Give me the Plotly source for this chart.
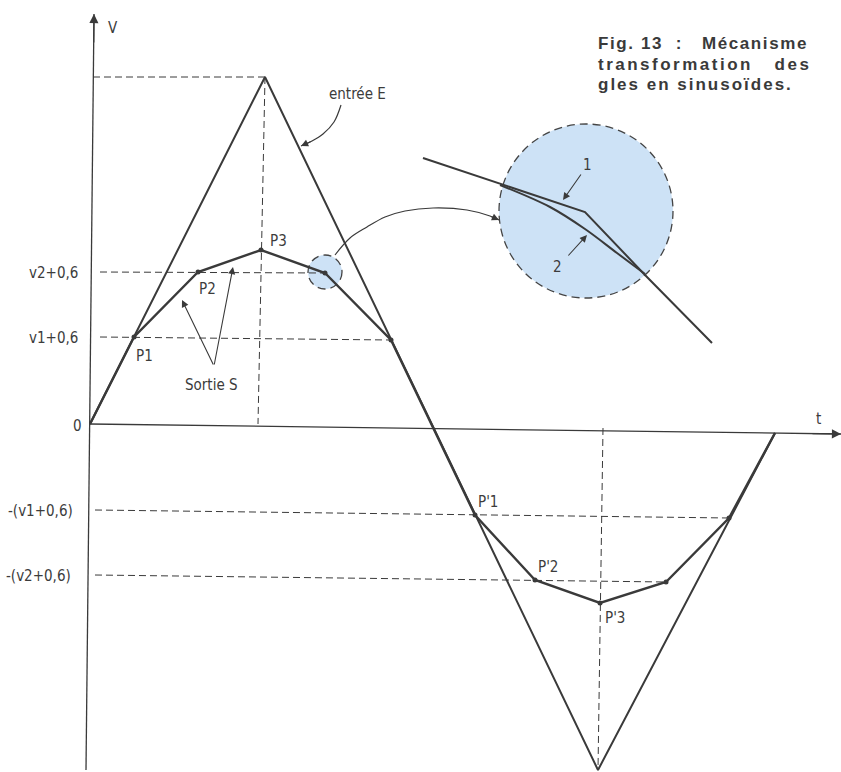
import plotly.graph_objects as go

# Diagram frame: t to the right, V upwards (units)
# input triangle E
e_t = [0, 175, 508, 685]
e_v = [0, 347, -346, -9]

# output S (piecewise, clipped by the diodes)
s_t = [0, 44, 108, 171, 235, 301, 385, 445, 510, 576, 639, 685]
s_v = [0, 87, 152, 174, 151, 84, -91, -156, -179, -158, -94, -9]
dot_idx = [1, 2, 3, 4, 5, 6, 7, 8, 9, 10]

# dashed guides
guides = {
    "peak_h": ([3, 175], [347, 347]),
    "peak_v": ([175, 168], [347, 0]),
    "v2": ([10, 235], [152, 151]),
    "v1": ([10, 301], [87, 84]),
    "mv1": ([5, 639], [-86, -94]),
    "mv2": ([5, 576], [-151, -158]),
    "trough_v": ([513, 508], [-4, -346]),
}

# axes
t_axis_t = [0, 751]
t_axis_v = [0, -10]
v_axis_t = [-4, 4]
v_axis_v = [-346, 410]

# zoom circles (center t, center V, radius)
small_circle = (235, 152, 17)
big_circle = (496, 213, 87)

# detail inside the big circle
zoom1_t = [333, 410, 495, 555, 622]
zoom1_v = [266, 240, 212, 149, 81]
zoom2_t = [410, 460, 495, 527, 555]
zoom2_v = [239, 217, 195, 171, 150]

# curved leader lines
link_t = [245, 260, 277, 295, 315, 343, 377, 400, 409]
link_v = [169, 186, 197, 207, 213, 216, 214, 208, 204]
entree_t = [251, 244, 233, 222, 211]
entree_v = [319, 302, 290, 283, 278]

# labels: text, t, V, anchor
labels = [
    ("V", 23, 396, "center"),
    ("t", 728, 5, "center"),
    ("0", -13, -2, "center"),
    ("v2+0,6", -10, 151, "right"),
    ("v1+0,6", -10, 86, "right"),
    ("-(v1+0,6)", -15, -87, "right"),
    ("-(v2+0,6)", -17, -152, "right"),
    ("P1", 54, 68, "center"),
    ("P2", 117, 135, "center"),
    ("P3", 188, 183, "center"),
    ("Sortie S", 121, 39, "center"),
    ("entrée E", 267, 330, "center"),
    ("P'1", 398, -78, "center"),
    ("P'2", 458, -143, "center"),
    ("P'3", 525, -194, "center"),
    ("1", 497, 259, "center"),
    ("2", 467, 157, "center"),
]

# straight arrows: (tail t, tail V, head t, head V)
arrows = [
    (124, 58, 92, 124),
    (124, 58, 143, 157),
    (492, 251, 473, 224),
    (477, 167, 497, 189),
]

title_lines = ["Fig. 13&nbsp; :&nbsp;&nbsp; Mécanisme", "transformation&nbsp;&nbsp; des", "gles en sinusoïdes."]
title_v = [381, 360, 340]
title_spacing = [1.6, 2.5, 2]

INK = "#3a3a3a"
LABEL_FONT = dict(family="DejaVu Sans Condensed, Liberation Sans Narrow, sans-serif", size=15, color="#3c3c3c")

fig = go.Figure()

for name, (gt, gv) in guides.items():
    fig.add_trace(go.Scatter(x=gt, y=gv, mode="lines",
                             line=dict(color=INK, width=1, dash="7px,4px"), hoverinfo="skip"))

fig.add_trace(go.Scatter(x=t_axis_t, y=t_axis_v, mode="lines", line=dict(color=INK, width=1.3)))
fig.add_trace(go.Scatter(x=v_axis_t, y=v_axis_v, mode="lines", line=dict(color=INK, width=1.3)))

fig.add_trace(go.Scatter(x=e_t, y=e_v, mode="lines", line=dict(color=INK, width=2)))
fig.add_trace(go.Scatter(x=s_t, y=s_v, mode="lines", line=dict(color=INK, width=2.4)))
fig.add_trace(go.Scatter(x=[s_t[i] for i in dot_idx], y=[s_v[i] for i in dot_idx], mode="markers",
                         marker=dict(color=INK, size=5)))

fig.add_trace(go.Scatter(x=zoom1_t, y=zoom1_v, mode="lines", line=dict(color=INK, width=2)))
fig.add_trace(go.Scatter(x=zoom2_t, y=zoom2_v, mode="lines", line=dict(color=INK, width=2, shape="spline")))

fig.add_trace(go.Scatter(x=link_t, y=link_v, mode="lines", line=dict(color=INK, width=1.2, shape="spline")))
fig.add_trace(go.Scatter(x=entree_t, y=entree_v, mode="lines", line=dict(color=INK, width=1.2, shape="spline")))

for cx, cy, r in (small_circle, big_circle):
    fig.add_shape(type="circle", xref="x", yref="y", x0=cx - r, x1=cx + r, y0=cy - r, y1=cy + r,
                  fillcolor="#cde2f6", line=dict(color="#444444", width=1.3, dash="8px,5px"), layer="below")

for text, x, y, anchor in labels:
    fig.add_annotation(x=x, y=y, text=text, showarrow=False, xanchor=anchor, yanchor="middle", font=LABEL_FONT)

for tt, tv, ht, hv in arrows:
    fig.add_annotation(x=ht, y=hv, ax=tt, ay=tv, xref="x", yref="y", axref="x", ayref="y", text="",
                       showarrow=True, arrowhead=2, arrowsize=1.3, arrowwidth=1.1, arrowcolor=INK)

# heads of curved leaders and axes
for ct, cv in ((link_t, link_v), (entree_t, entree_v)):
    fig.add_annotation(x=ct[-1], y=cv[-1], ax=ct[-2], ay=cv[-2], xref="x", yref="y", axref="x", ayref="y",
                       text="", showarrow=True, arrowhead=2, arrowsize=1.3, arrowwidth=1.1, arrowcolor=INK)
fig.add_annotation(x=t_axis_t[1], y=t_axis_v[1], ax=t_axis_t[1] - 30, ay=t_axis_v[1] + 0.4,
                   xref="x", yref="y", axref="x", ayref="y", text="", showarrow=True,
                   arrowhead=2, arrowsize=1.4, arrowwidth=1.3, arrowcolor=INK)
fig.add_annotation(x=v_axis_t[1], y=v_axis_v[1], ax=v_axis_t[1] - 0.3, ay=v_axis_v[1] - 30,
                   xref="x", yref="y", axref="x", ayref="y", text="", showarrow=True,
                   arrowhead=2, arrowsize=1.4, arrowwidth=1.3, arrowcolor=INK)

for line, v, sp in zip(title_lines, title_v, title_spacing):
    fig.add_annotation(x=506, y=v, xanchor="left", yanchor="middle", showarrow=False,
                       text='<b><span style="letter-spacing:%spx">%s</span></b>' % (sp, line),
                       font=dict(family="Liberation Sans, Arial, sans-serif", size=17, color="#3a3a3a"))

fig.update_layout(
    width=841, height=772,
    margin=dict(l=0, r=0, t=0, b=0),
    xaxis=dict(range=[-90, 751], visible=False, fixedrange=True),
    yaxis=dict(range=[-348, 424], visible=False, fixedrange=True),
    plot_bgcolor="white", paper_bgcolor="white",
    showlegend=False,
)

# page body has an 8px default margin; drop it so the figure sits at the window corner
fig.write_html("out.html", config={"displayModeBar": False},
               post_script="document.body.style.margin='0px';")
